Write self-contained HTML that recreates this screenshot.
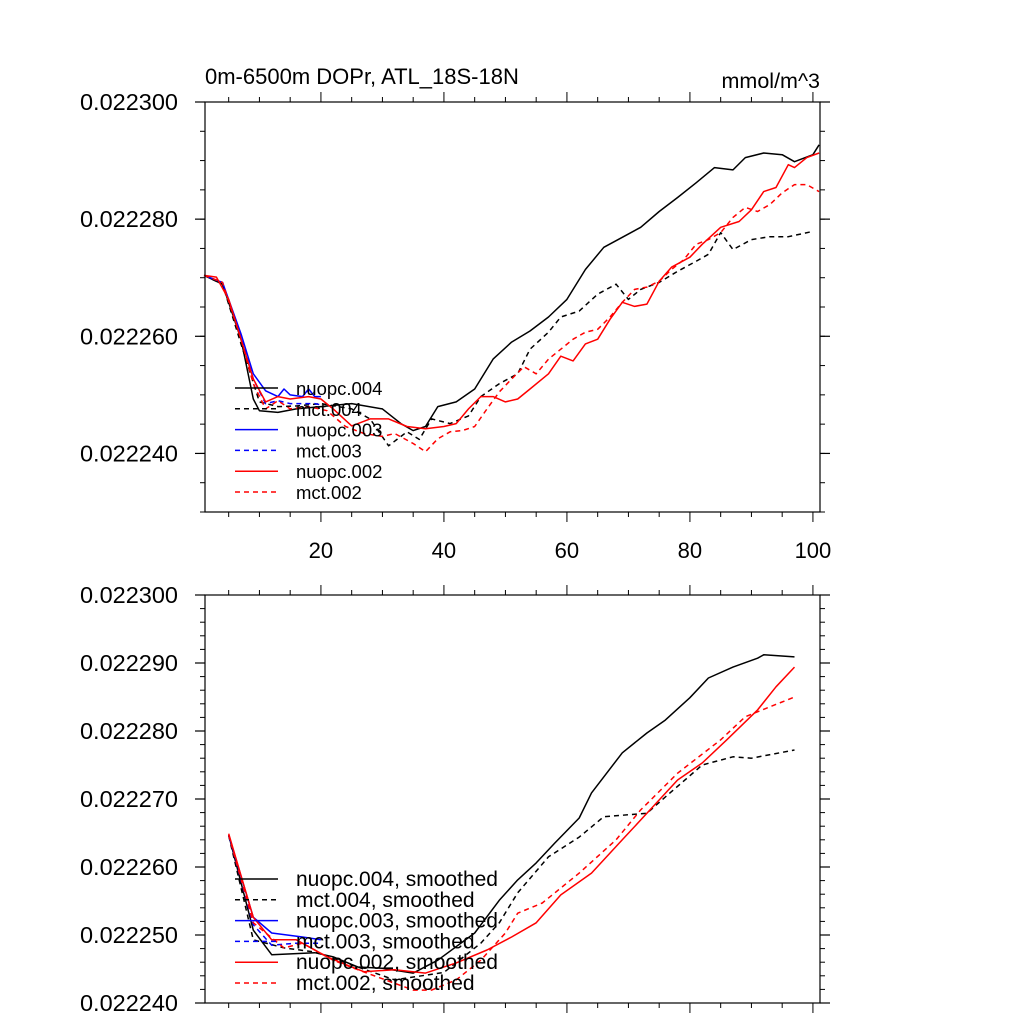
<!DOCTYPE html>
<html><head><meta charset="utf-8"><style>
body{margin:0;background:#fff;}
svg{display:block;font-family:"Liberation Sans",sans-serif;}
</style></head><body>
<svg id="chart" width="1024" height="1024" viewBox="0 0 1024 1024" xmlns="http://www.w3.org/2000/svg"></svg>
<script>
// values in units of 1e-6 mmol/m^3
const nuopc004X=[1,4,7,9,10,13,16,20,25,30,33,35,37,39,42,45,48,51,54,57,60,63,66,69,72,75,78,81,84,87,89,92,95,97,100,101];
const nuopc004Y=[22270.4,22268.9,22259.5,22249.3,22247.3,22247.0,22247.6,22248.0,22248.5,22247.6,22245.1,22243.9,22244.6,22248.0,22248.8,22251.0,22256.1,22259.0,22260.9,22263.3,22266.3,22271.4,22275.2,22276.9,22278.6,22281.3,22283.7,22286.2,22288.8,22288.4,22290.5,22291.3,22291.0,22289.8,22291.0,22292.7];
const mct004X=[1,4,7,10,13,16,20,25,28,31,34,36,38,41,44,46,49,52,54,57,59,62,65,68,70,72,75,78,81,83,85,87,90,93,96,100];
const mct004Y=[22270.4,22268.9,22258.7,22248.8,22248.0,22248.1,22248.5,22247.6,22245.9,22241.3,22243.7,22242.4,22245.9,22245.1,22246.4,22249.7,22251.9,22253.6,22257.8,22260.7,22263.3,22264.3,22267.2,22268.9,22266.3,22268.0,22269.2,22271.1,22272.8,22274.0,22277.7,22274.8,22276.5,22277.0,22277.0,22277.9];
const nuopc003X=[1,4,7,9,11,13,14,15,17,18,19,20];
const nuopc003Y=[22270.4,22269.2,22260.4,22253.6,22250.7,22249.7,22251.0,22250.0,22249.7,22251.0,22249.7,22249.7];
const mct003X=[1,4,7,9,11,13,15,17,19,20];
const mct003Y=[22270.4,22269.2,22259.9,22252.7,22248.5,22249.0,22248.5,22248.5,22248.5,22248.3];
const nuopc002X=[1,3,5,7,9,11,13,15,18,20,22,25,28,31,34,37,40,42,44,46,48,50,52,54,57,59,61,63,65,67,69,71,73,75,77,80,82,85,88,90,92,94,96,97,99,101];
const nuopc002Y=[22270.4,22270.1,22266.3,22259.5,22252.7,22248.8,22249.7,22249.3,22249.7,22249.3,22247.6,22244.7,22245.9,22245.9,22244.6,22244.2,22244.6,22245.1,22247.6,22249.7,22249.7,22248.8,22249.3,22251.0,22253.6,22256.6,22255.8,22258.7,22259.5,22262.9,22265.8,22265.1,22265.5,22269.4,22271.8,22273.5,22275.7,22278.6,22279.6,22281.6,22284.7,22285.4,22289.3,22288.8,22290.5,22291.3];
const mct002X=[1,4,7,9,11,13,15,18,21,24,27,30,32,35,37,39,41,43,45,47,49,51,53,55,57,59,61,63,65,67,69,71,73,75,77,79,81,83,85,87,89,91,93,95,97,99,101];
const mct002Y=[22270.4,22269.2,22259.5,22251.9,22247.6,22249.0,22247.6,22248.0,22247.3,22244.6,22243.4,22242.9,22243.4,22241.7,22240.3,22242.5,22243.7,22243.9,22244.6,22247.6,22250.5,22252.7,22254.8,22253.6,22256.1,22257.8,22259.5,22260.7,22261.2,22263.3,22265.8,22268.0,22268.4,22269.4,22271.4,22273.1,22275.7,22276.5,22277.7,22280.3,22282.0,22281.3,22282.5,22284.5,22285.9,22285.9,22284.7];
// smoothed
const sNuopc004X=[5,9,12,19,22,26,30,35,39,45,49,52,55,58,62,64,69,73,76,80,83,87,91,92,97];
const sNuopc004Y=[22264.7,22250.7,22247.1,22247.4,22246.8,22245.3,22245.1,22244.4,22246.3,22250.3,22255.1,22258.1,22260.6,22263.5,22267.2,22270.9,22276.8,22279.7,22281.6,22284.9,22287.8,22289.4,22290.7,22291.2,22290.9];
const sMct004X=[5,9,14,19,26,32,40,46,49,52,57,62,66,73,76,82,87,90,97];
const sMct004Y=[22264.6,22249.3,22248.1,22247.5,22245.3,22243.4,22244.5,22248.8,22251.8,22256.2,22261.5,22264.4,22267.4,22267.9,22270.3,22275.0,22276.2,22276.0,22277.2];
const sNuopc003X=[5,9,12,17,20];
const sNuopc003Y=[22264.7,22252.6,22250.3,22249.7,22249.3];
const sMct003X=[5,9,12,16,20];
const sMct003Y=[22264.7,22251.5,22248.5,22248.8,22248.8];
const sNuopc002X=[5,9,12,16,21,25,27,32,37,42,47,51,55,59,64,69,73,78,82,86,91,94,97];
const sNuopc002Y=[22264.9,22252.6,22249.3,22249.3,22246.8,22245.3,22244.6,22244.9,22244.4,22245.9,22247.8,22249.7,22251.8,22255.9,22259.1,22264.0,22267.9,22272.8,22275.3,22278.7,22283.1,22286.5,22289.4];
const sMct002X=[5,9,14,17,22,26,32,35,38,42,46,50,52,56,62,68,72,78,85,89,97];
const sMct002Y=[22264.7,22251.8,22248.1,22248.8,22246.3,22244.9,22242.9,22241.9,22241.9,22243.4,22246.3,22250.3,22253.2,22254.7,22259.1,22264.0,22268.4,22273.8,22278.7,22282.1,22285.0];
const topYTicks=[22300,22280,22260,22240];
const topYTickLabels=["0.022300","0.022280","0.022260","0.022240"];
const botYTicks=[22300,22290,22280,22270,22260,22250,22240];
const botYTickLabels=["0.022300","0.022290","0.022280","0.022270","0.022260","0.022250","0.022240"];
const xTicks=[20,40,60,80,100];
const xTickLabels=["20","40","60","80","100"];
const legendTop=["nuopc.004","mct.004","nuopc.003","mct.003","nuopc.002","mct.002"];
const legendBot=["nuopc.004, smoothed","mct.004, smoothed","nuopc.003, smoothed","mct.003, smoothed","nuopc.002, smoothed","mct.002, smoothed"];

const NS="http://www.w3.org/2000/svg";
const svg=document.getElementById('chart');
function mk(tag,attrs,parent){const e=document.createElementNS(NS,tag);for(const k in attrs)e.setAttribute(k,attrs[k]);(parent||svg).appendChild(e);return e;}
const L=205,R=820,XMIN=1.15,XMAX=101.15;
function sx(x){return L+(x-XMIN)/(XMAX-XMIN)*(R-L);}
const styles=[["#000",""],["#000","5,4"],["#0000ff",""],["#0000ff","5,4"],["#ff0000",""],["#ff0000","5,4"]];

function panel(name,top,bot,ymin,ymax,yTicks,yLabels,minorStep,series,legend,legY,legFont,showXLabels){
  const g=mk('g',{});
  
  
  const sy=v=>bot-(v-ymin)/(ymax-ymin)*(bot-top);
  for(let v=ymin;v<=ymax+1e-6;v+=minorStep){
    const y=sy(v);
    const t1=mk('line',{x1:L-5,x2:L,y1:y,y2:y,stroke:'#000','stroke-width':1},g);
    
    const t2=mk('line',{x1:R,x2:R+5,y1:y,y2:y,stroke:'#000','stroke-width':1},g);
    
  }
  yTicks.forEach((v,i)=>{
    const y=sy(v);
    const t1=mk('line',{x1:L-10,x2:L,y1:y,y2:y,stroke:'#000','stroke-width':1.2},g);
    
    const t2=mk('line',{x1:R,x2:R+10,y1:y,y2:y,stroke:'#000','stroke-width':1.2},g);
    
    const tx=mk('text',{x:178,y:y+8,'text-anchor':'end','font-size':23.5},g);
    tx.textContent=yLabels[i];
    
  });
  for(let x=5;x<=100;x+=5){
    const px=sx(x),major=(x%20===0),len=major?10:5;
    const t1=mk('line',{x1:px,x2:px,y1:bot,y2:bot+len,stroke:'#000','stroke-width':1},g);
    
    const t2=mk('line',{x1:px,x2:px,y1:top-len,y2:top,stroke:'#000','stroke-width':1},g);
    
  }
  if(showXLabels){xTicks.forEach((x,i)=>{
    const tx=mk('text',{x:sx(x),y:bot+46,'text-anchor':'middle','font-size':22},g);
    tx.textContent=xTickLabels[i];
    
  });}
  series.forEach((s,i)=>{
    const d=s[0].map((x,j)=>(j?'L':'M')+sx(x).toFixed(1)+','+sy(s[1][j]).toFixed(1)).join(' ');
    const p=mk('path',{d:d,fill:'none',stroke:styles[i][0],'stroke-width':1.5,'stroke-dasharray':styles[i][1],'stroke-linejoin':'round'},g);
    
    
  });
  legend.forEach((t,i)=>{
    const y=legY+i*20.8;
    const ln=mk('line',{x1:235,x2:278,y1:y,y2:y,stroke:styles[i][0],'stroke-width':1.5,'stroke-dasharray':styles[i][1]},g);
    
    const tx=mk('text',{x:296,y:y+7,'font-size':legFont},g);
    tx.textContent=t;
    
  });
  const fr=mk('rect',{x:L,y:top,width:R-L,height:bot-top,fill:'none',stroke:'#000','stroke-width':1.2},g);
  
}
panel('top-panel',102,512,22230,22300,topYTicks,topYTickLabels,5,
  [[nuopc004X,nuopc004Y],[mct004X,mct004Y],[nuopc003X,nuopc003Y],[mct003X,mct003Y],[nuopc002X,nuopc002Y],[mct002X,mct002Y]],
  legendTop,388,18.5,true);
panel('bottom-panel',595,1003,22240,22300,botYTicks,botYTickLabels,2,
  [[sNuopc004X,sNuopc004Y],[sMct004X,sMct004Y],[sNuopc003X,sNuopc003Y],[sMct003X,sMct003Y],[sNuopc002X,sNuopc002Y],[sMct002X,sMct002Y]],
  legendBot,879,21,false);
const t1=mk('text',{x:205,y:84,'font-size':22});
t1.textContent='0m-6500m DOPr, ATL_18S-18N';

const t2=mk('text',{x:820,y:88,'font-size':21.5,'text-anchor':'end'});
t2.textContent='mmol/m^3';

</script>
</body></html>
